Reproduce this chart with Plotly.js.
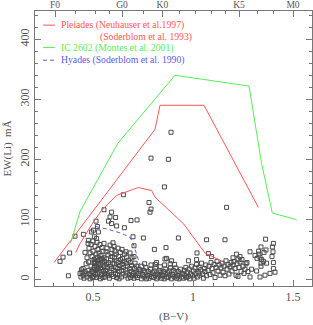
<!DOCTYPE html>
<html><head><meta charset="utf-8">
<script src="https://cdn.plot.ly/plotly-3.0.1.min.js"></script>
<style>html,body{margin:0;padding:0;background:#fff}#chart{width:313px;height:325px}</style>
</head><body><div id="chart"></div>
<script>
// Pleiades upper envelope
const pleiadesUpX = [0.305, 0.81, 0.835, 1.055, 1.327];
const pleiadesUpY = [28, 250, 290, 290, 120];
// Pleiades lower envelope
const pleiadesLoX = [0.4135, 0.435, 0.5015, 0.5435, 0.6185, 0.7265, 0.7935, 0.81, 0.9515, 1.06, 1.1435];
const pleiadesLoY = [44.5, 59.5, 95.5, 115, 140, 153, 148, 137, 93, 44, 30.5];
// IC 2602
const ic2602X = [0.388, 0.435, 0.625, 0.91, 1.28, 1.343, 1.3965, 1.5185];
const ic2602Y = [60, 113, 227, 340, 322, 193, 110.5, 99.5];
// Hyades
const hyadesX = [0.515, 0.58, 0.64, 0.685, 0.70, 0.715, 0.735];
const hyadesY = [88, 83, 77, 70, 61, 45, 24];

// Stars (B-V, EW(Li))
const starPairs = [
[0.89,245],[0.79,202],[0.877,200],[0.857,154],[0.652,141],[0.78,128],[0.79,117],[0.785,112],[1.168,120],[0.555,116],[0.593,112],[0.585,104],[0.577,97],[0.613,103],[0.593,93],[0.618,89],[0.69,98],[0.72,99],[0.657,86],[0.515,97],[0.522,88],[0.502,82],[0.493,79],[0.527,79],[0.507,71],[0.518,68],[0.477,65],[0.452,75],[0.41,72],[0.335,30],[0.35,37],[0.377,6],[0.383,44],[0.70,71],[0.752,69],[0.927,69],[1.068,66],[1.16,66],[1.363,67],[1.402,60],[1.397,54],[1.34,54],[1.285,46],[1.365,49],[1.218,42],[0.705,56],[0.807,50],[0.865,53],[0.86,34],[0.818,28],[1.02,44],[1.077,43],[1.093,38],[0.977,31],[1.018,33],[0.893,31],[0.868,35],[1.235,38],
[0.435,10],[0.44,4],[0.445,12],[0.45,7],[0.455,2],[0.46,13],[0.465,9],[0.47,4],[0.475,15],[0.48,10],[0.485,1],[0.49,7],[0.495,13],[0.45,18],[0.465,26],[0.478,29],[0.49,22],[0.5,17],[0.497,3],[0.442,16],
[0.46,45],[0.485,44],[0.47,36],[0.48,52],[0.49,58],[0.495,38],[0.5,47],[0.505,33],[0.51,55],[0.515,42],[0.52,62],[0.52,36],[0.525,50],[0.53,44],[0.535,58],[0.54,31],[0.54,40],[0.545,53],[0.55,47],[0.555,36],[0.555,60],[0.5,64],[0.475,60],[0.53,33],[0.51,30],
[0.502,5],[0.505,12],[0.508,20],[0.51,26],[0.512,8],[0.515,16],[0.518,3],[0.52,22],[0.505,28],
[0.522,10],[0.525,18],[0.527,27],[0.53,5],[0.532,14],[0.535,24],[0.537,1],[0.538,19],[0.524,31],
[0.542,8],[0.545,17],[0.547,27],[0.55,3],[0.552,13],[0.555,22],[0.557,30],[0.558,9],[0.543,35],
[0.562,4],[0.564,15],[0.566,25],[0.568,34],[0.57,10],[0.572,20],[0.575,41],[0.577,6],[0.578,28],[0.565,46],[0.57,52],
[0.582,2],[0.584,12],[0.586,22],[0.588,32],[0.59,43],[0.592,8],[0.594,18],[0.596,38],[0.598,27],[0.585,57],[0.595,50],[0.6,61],
[0.602,5],[0.604,15],[0.606,26],[0.608,36],[0.61,47],[0.612,10],[0.614,20],[0.616,31],[0.618,3],[0.605,55],[0.615,42],
[0.622,8],[0.624,18],[0.626,28],[0.628,38],[0.63,1],[0.632,13],[0.634,23],[0.636,45],[0.638,33],[0.625,52],
[0.642,4],[0.644,15],[0.646,25],[0.648,35],[0.65,9],[0.652,20],[0.655,30],[0.658,42],[0.645,50],
[0.662,6],[0.664,16],[0.666,27],[0.668,37],[0.67,11],[0.672,22],[0.675,2],[0.678,32],[0.665,46],
[0.682,8],[0.684,18],[0.686,28],[0.688,3],[0.69,13],[0.692,23],[0.695,36],[0.698,6],[0.685,44],
[0.702,10],[0.705,2],[0.708,18],[0.71,27],[0.712,6],[0.715,14],[0.718,22],[0.705,38],
[0.722,3],[0.726,10],[0.73,17],[0.734,6],[0.738,14],[0.742,1],[0.744,22],
[0.748,8],[0.752,15],[0.756,4],[0.76,12],[0.764,20],[0.768,1],[0.758,26],
[0.772,6],[0.776,13],[0.78,2],[0.784,9],[0.788,17],[0.792,5],[0.79,24],
[0.798,11],[0.802,3],[0.806,14],[0.81,7],[0.814,19],[0.818,1],[0.812,25],
[0.822,9],[0.826,4],[0.83,15],[0.834,7],[0.838,12],[0.842,2],[0.836,21],
[0.848,6],[0.852,13],[0.856,1],[0.86,9],[0.864,17],[0.868,4],[0.858,24],
[0.872,11],[0.876,3],[0.88,14],[0.884,7],[0.888,19],[0.892,1],[0.886,26],
[0.898,8],[0.902,15],[0.906,4],[0.91,11],[0.914,19],[0.918,2],[0.908,25],
[0.922,6],[0.926,13],[0.93,1],[0.934,9],[0.938,17],[0.942,4],
[0.948,10],[0.952,2],[0.956,15],[0.96,7],[0.964,20],[0.968,3],
[0.972,12],[0.976,5],[0.98,17],[0.984,1],[0.988,9],[0.992,22],
[0.998,6],[1.002,14],[1.006,2],[1.01,19],[1.014,10],[1.018,25],
[1.022,4],[1.026,12],[1.03,20],[1.034,7],[1.038,16],[1.042,27],
[1.048,9],[1.052,2],[1.056,18],[1.06,13],[1.064,24],[1.068,6],
[1.075,15],[1.08,22],[1.085,8],[1.09,28],[1.095,18],[1.1,11],[1.105,25],[1.11,3],[1.115,20],[1.12,30],[1.125,14],[1.13,24],[1.135,7],[1.14,19],[1.145,27],[1.15,12],[1.155,22],[1.16,6],[1.165,31],[1.17,17],[1.175,25],[1.18,9],[1.185,21],[1.19,28],[1.195,14],[1.2,24],[1.205,30],[1.21,18],[1.215,7],[1.22,26],[1.225,5],[1.23,20],[1.235,29],[1.24,13],[1.245,33],[1.25,22],[1.255,10],[1.26,17],[1.265,26],[1.27,28],[1.275,13],[1.285,4],[1.293,17],[1.225,34],[1.2,36],
[1.318,14],[1.335,4],[1.36,7],[1.385,10],[1.41,12],[1.402,18],[1.402,28],[1.368,27],[1.34,27],[1.33,42],[1.335,37],[1.343,33],[1.328,47],[1.31,40],[1.32,35],[1.352,30],[1.34,22],[1.395,38],[1.4,46],[1.355,45]
];
const starX = starPairs.map(p => p[0]);
const starY = starPairs.map(p => p[1]);

// Spectral type axis
const specTypes = ['F0', 'G0', 'K0', 'K5', 'M0'];
const specBV = [0.31, 0.645, 0.847, 1.23, 1.50];

const RED = '#ff5555', GREEN = '#55ee55', BLUE = '#5a5aee';
const FONT = 'Liberation Serif, Times New Roman, serif';

const traces = [
  {x: starX, y: starY, mode: 'markers', type: 'scatter',
   marker: {symbol: 'square-open', size: 4, color: '#4a4a4a', line: {width: 1}}},
  {x: pleiadesUpX, y: pleiadesUpY, mode: 'lines', line: {color: RED, width: 1}},
  {x: pleiadesLoX, y: pleiadesLoY, mode: 'lines', line: {color: RED, width: 1}},
  {x: ic2602X, y: ic2602Y, mode: 'lines', line: {color: GREEN, width: 1}},
  {x: hyadesX, y: hyadesY, mode: 'lines', line: {color: BLUE, width: 1, dash: '4px,3px'}},
  {x: [null], y: [null], xaxis: 'x2', mode: 'markers', hoverinfo: 'skip'}
];

function legendText(txt, color, x, y) {
  return {text: txt, xref: 'paper', yref: 'paper', x: x, y: y, xanchor: 'left', yanchor: 'middle',
          showarrow: false, font: {family: FONT, size: 9.7, color: color}};
}
function legendLine(color, y, dash) {
  return {type: 'line', xref: 'paper', yref: 'paper', x0: 0.029, x1: 0.072, y0: y, y1: y,
          line: {color: color, width: 1, dash: dash || 'solid'}};
}

const layout = {
  width: 313, height: 325,
  margin: {l: 35, r: 1, t: 11, b: 39},
  showlegend: false,
  paper_bgcolor: '#fff', plot_bgcolor: '#fff',
  font: {family: FONT, color: '#555'},
  xaxis: {
    range: [0.21, 1.595], showgrid: false, zeroline: false,
    showline: true, linecolor: '#777', linewidth: 1,
    ticks: 'inside', ticklen: 6, tickcolor: '#777',
    tickvals: [0.5, 1, 1.5], ticktext: ['0.5', '1', '1.5'],
    minor: {ticks: 'inside', dtick: 0.1, ticklen: 3, tickcolor: '#777'},
    tickfont: {family: FONT, size: 12, color: '#555'},
    title: {text: '(B\u2212V)', font: {family: FONT, size: 11, color: '#555'}, standoff: 8}
  },
  xaxis2: {
    overlaying: 'x', side: 'top', range: [0.21, 1.595], showgrid: false, zeroline: false,
    showline: true, linecolor: '#777', linewidth: 1,
    ticks: 'inside', ticklen: 6, tickcolor: '#777',
    tickvals: specBV, ticktext: specTypes,
    minor: {ticks: 'inside', ticklen: 3, tickcolor: '#777', tickmode: 'array',
            tickvals: [0.41, 0.51, 0.58, 0.75, 0.93, 1.01, 1.09, 1.16, 1.32, 1.40]},
    tickfont: {family: FONT, size: 9.5, color: '#555'}, ticklabelstandoff: -2
  },
  yaxis: {
    range: [-11, 447], showgrid: false, zeroline: false,
    showline: true, linecolor: '#777', linewidth: 1, mirror: 'ticks',
    ticks: 'inside', ticklen: 6, tickcolor: '#777',
    tickvals: [0, 100, 200, 300, 400],
    minor: {ticks: 'inside', dtick: 20, ticklen: 3, tickcolor: '#777'},
    tickangle: -90,
    tickfont: {family: FONT, size: 12, color: '#555'},
    title: {text: 'EW(Li)  mÅ', font: {family: FONT, size: 11, color: '#555'}, standoff: 4}
  },
  shapes: [
    legendLine(RED, 0.9486),
    legendLine(GREEN, 0.867),
    legendLine(BLUE, 0.821, '4px,3px')
  ],
  annotations: [
    legendText('Pleiades (Neuhauser et al.1997)', RED, 0.088, 0.9486),
    legendText('(Soderblom et al. 1993)', RED, 0.229, 0.906),
    legendText('IC 2602 (Montes et al. 2001)', GREEN, 0.088, 0.867),
    legendText('Hyades (Soderblom et al. 1990)', BLUE, 0.088, 0.821)
  ]
};

Plotly.newPlot('chart', traces, layout, {displayModeBar: false, staticPlot: true});
</script></body></html>
